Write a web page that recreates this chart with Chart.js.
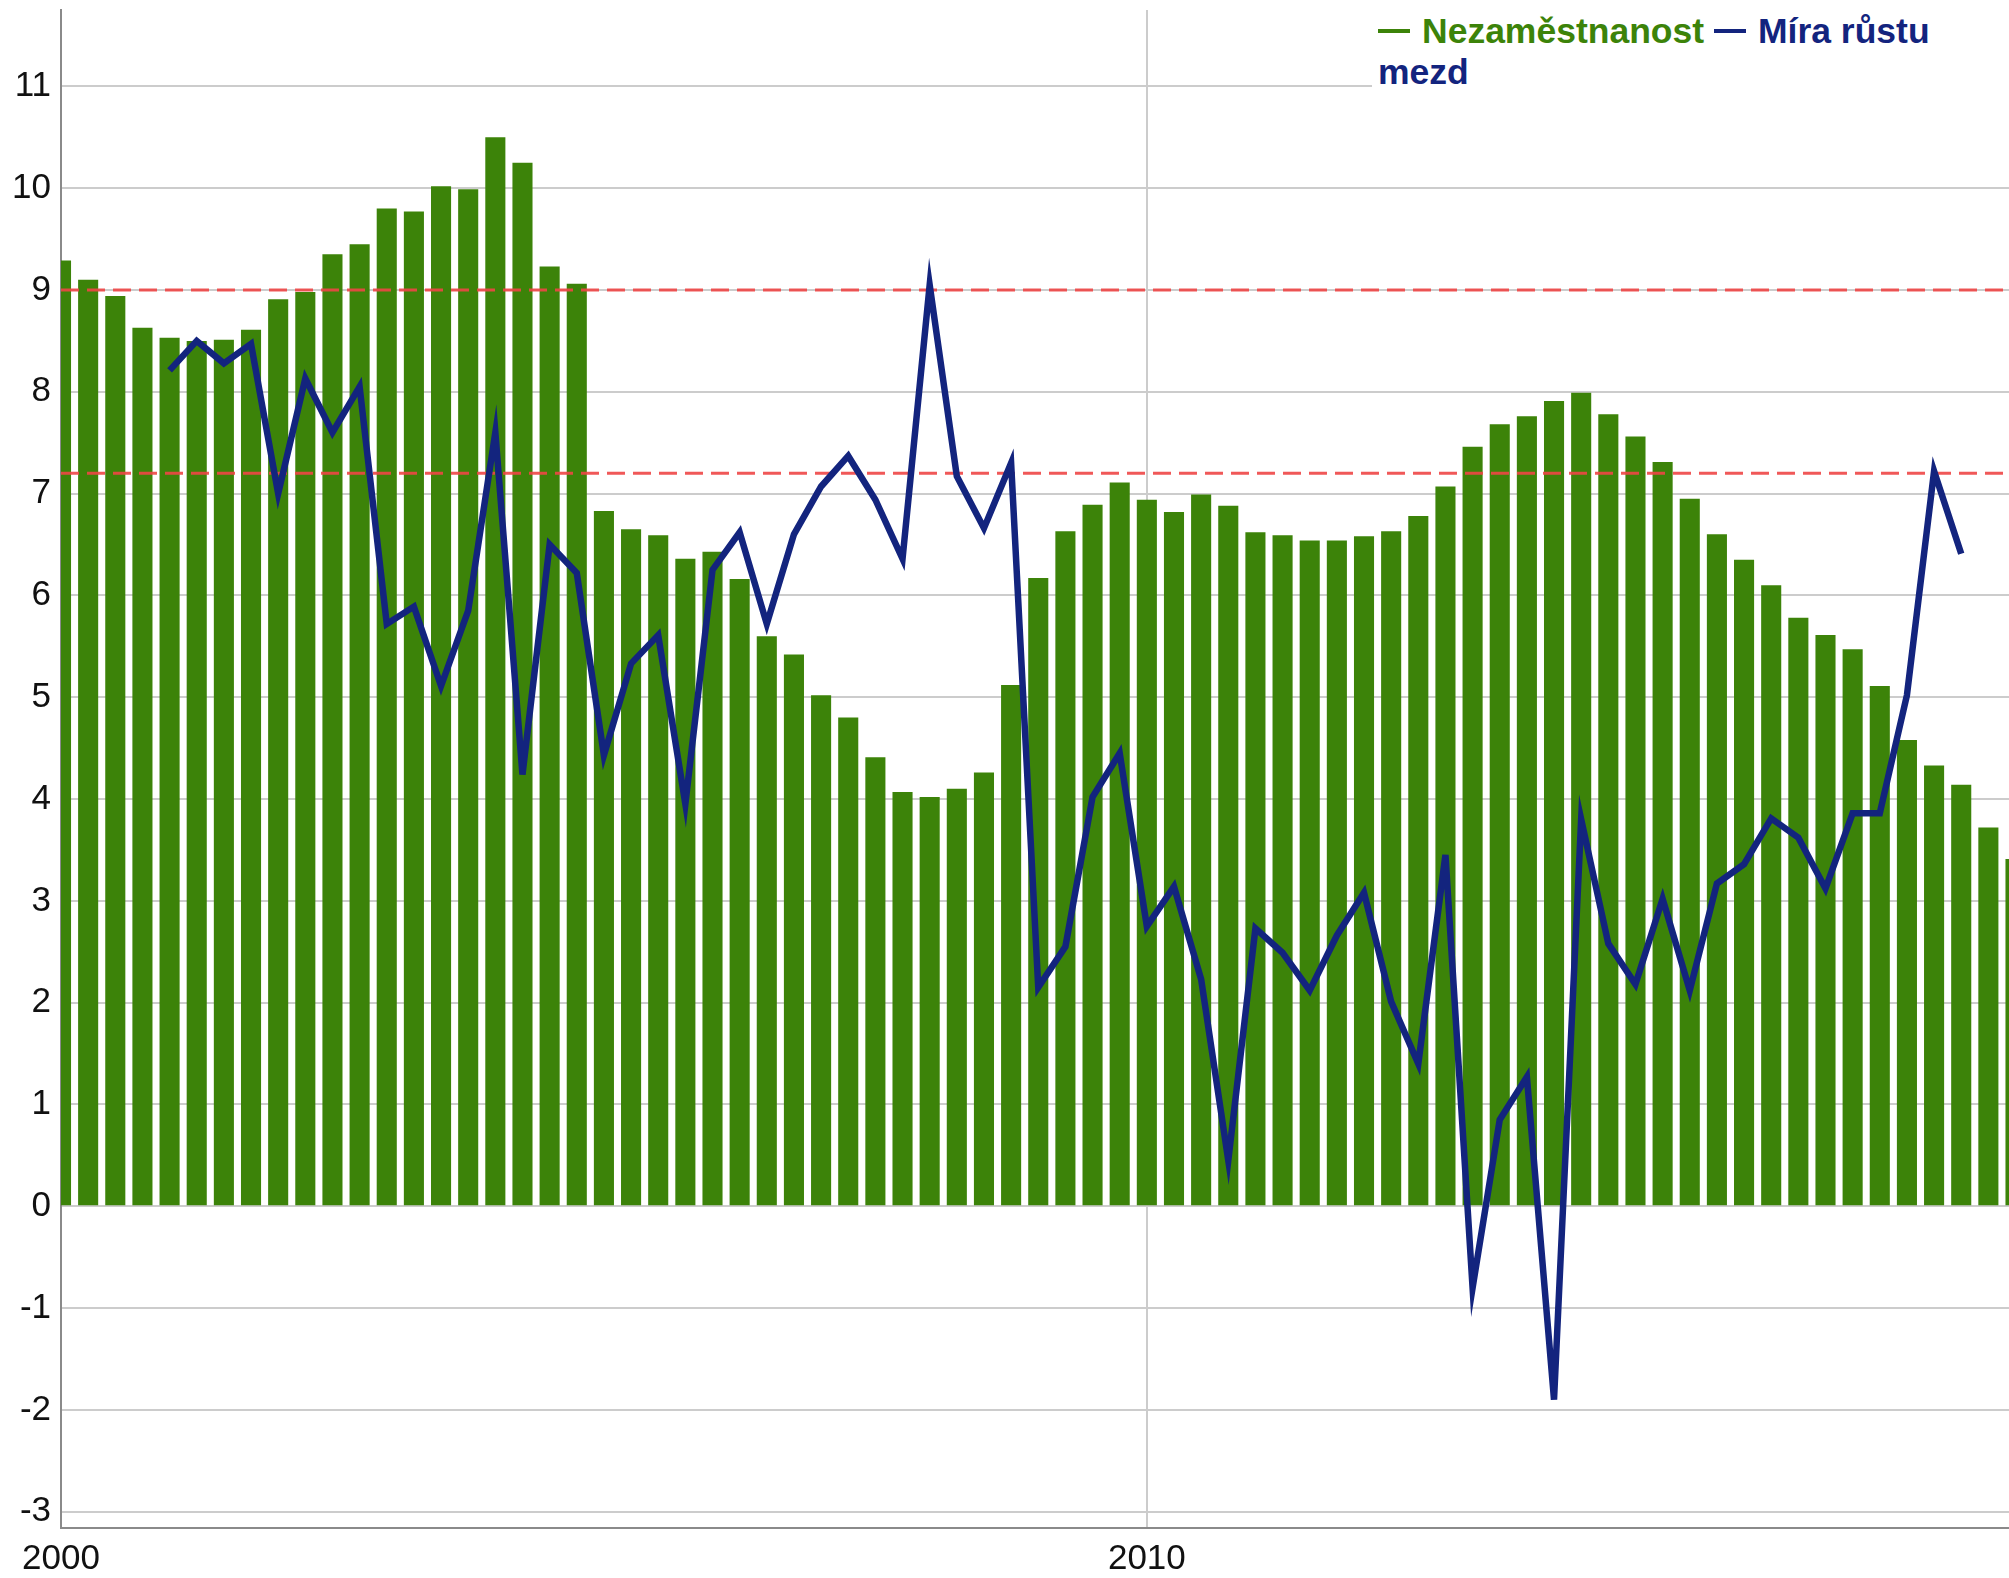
<!DOCTYPE html>
<html lang="cs">
<head>
<meta charset="utf-8">
<title>Nezaměstnanost a míra růstu mezd</title>
<script src="https://cdn.jsdelivr.net/npm/chart.js@4.4.1/dist/chart.umd.min.js"></script>
<style>
  html, body { margin: 0; padding: 0; background: #fff; }
  #wrap { position: relative; width: 2009px; height: 1578px; }
  #legend {
    position: absolute; left: 1372px; top: 11px; right: 0; height: 84px;
    background: #fff; padding-left: 6px;
    font: bold 35.5px "Liberation Sans", Arial, sans-serif; line-height: 41px;
  }
  #legend .inner { width: 610px; }
  #legend .mark { display: inline-block; width: 32px; height: 4px; vertical-align: middle; margin-right: 12px; position: relative; top: -3px; }
</style>
</head>
<body>
<div id="wrap">
  <canvas id="chart"></canvas>
  <div id="legend"><div class="inner"></div></div>
</div>
<script>
// Quarterly data, 2000Q1 .. 2018Q1
const firstYear = 2000;

// Nezaměstnanost (%), one value per quarter from 2000Q1
const unemployment = [
  9.29, 9.10, 8.94, 8.63, 8.53, 8.50, 8.51, 8.61, 8.91, 8.98,
  9.35, 9.45, 9.80, 9.77, 10.02, 9.99, 10.50, 10.25, 9.23, 9.06,
  6.83, 6.65, 6.59, 6.36, 6.43, 6.16, 5.60, 5.42, 5.02, 4.80,
  4.41, 4.07, 4.02, 4.10, 4.26, 5.12, 6.17, 6.63, 6.89, 7.11,
  6.94, 6.82, 6.99, 6.88, 6.62, 6.59, 6.54, 6.54, 6.58, 6.63,
  6.78, 7.07, 7.46, 7.68, 7.76, 7.91, 7.99, 7.78, 7.56, 7.31,
  6.95, 6.60, 6.35, 6.10, 5.78, 5.61, 5.47, 5.11, 4.58, 4.33,
  4.14, 3.72, 3.41
];

// Míra růstu mezd (%), one value per quarter from 2001Q1
const wageStart = 2001;
const wageGrowth = [
  8.21, 8.50, 8.28, 8.47, 7.00, 8.13, 7.60, 8.05,
  5.72, 5.89, 5.11, 5.85, 7.60, 4.24, 6.50, 6.22,
  4.43, 5.33, 5.61, 3.95, 6.25, 6.62, 5.72, 6.60,
  7.07, 7.37, 6.94, 6.36, 9.05, 7.17, 6.66, 7.30,
  2.15, 2.55, 4.02, 4.45, 2.75, 3.14, 2.23, 0.45,
  2.73, 2.49, 2.12, 2.66, 3.08, 2.01, 1.40, 3.45,
  -0.80, 0.85, 1.27, -1.90, 3.80, 2.58, 2.18, 3.02,
  2.12, 3.17, 3.36, 3.81, 3.62, 3.12, 3.86, 3.86,
  5.02, 7.22, 6.41
];

// dashed reference levels
const referenceLevels = [9.0, 7.2];

const seriesLabels = ['Nezaměstnanost', 'Míra růstu mezd'];
const seriesColors = ['#3c8309', '#13247e'];

const toPoints = (start, values) =>
  values.map((v, i) => ({ x: start + i / 4, y: v }));

const refDatasets = referenceLevels.map(level => ({
  type: 'line',
  label: 'ref ' + level,
  data: [{ x: firstYear, y: level }, { x: 2018, y: level }],
  borderColor: 'rgba(238, 70, 70, 0.9)',
  borderWidth: 3,
  borderDash: [18, 8],
  pointRadius: 0,
  clip: 0,
  order: 2
}));

const tickFont = { family: '"Liberation Sans", Arial, sans-serif', size: 35 };

const ctx = document.getElementById('chart').getContext('2d');
new Chart(ctx, {
  type: 'bar',
  data: {
    datasets: [
      {
        type: 'line',
        label: seriesLabels[1],
        data: toPoints(wageStart, wageGrowth),
        borderColor: seriesColors[1],
        borderWidth: 6.5,
        borderJoinStyle: 'miter',
        pointRadius: 0,
        tension: 0,
        order: 1
      },
      ...refDatasets,
      {
        label: seriesLabels[0],
        data: toPoints(firstYear, unemployment),
        backgroundColor: seriesColors[0],
        barPercentage: 0.74,
        categoryPercentage: 1,
        clip: 0,
        order: 3
      }
    ]
  },
  options: {
    responsive: true,
    maintainAspectRatio: false,
    animation: false,
    layout: { padding: { top: 10, right: 0, left: 0, bottom: 0 } },
    plugins: {
      legend: { display: false },
      tooltip: { enabled: false }
    },
    scales: {
      x: {
        type: 'linear',
        min: 2000,
        max: 2017.94,
        offset: false,
        grid: { offset: false, color: '#cccccc', lineWidth: 2, drawTicks: false },
        border: { color: '#8a8a8a', width: 2 },
        ticks: {
          stepSize: 10,
          includeBounds: false,
          padding: 10,
          color: '#111',
          font: tickFont,
          callback: v => String(v)
        },
        afterFit: scale => { scale.height = 50; }
      },
      y: {
        min: -3.16,
        max: 11.75,
        grid: { color: '#cccccc', lineWidth: 2, drawTicks: false },
        border: { color: '#8a8a8a', width: 2 },
        ticks: {
          stepSize: 1,
          includeBounds: false,
          padding: 10,
          color: '#111',
          font: tickFont
        },
        afterFit: scale => {
          scale.width = 61;
          scale.paddingTop = 0;
          scale.paddingBottom = 0;
        }
      }
    }
  }
});

// legend as html so the long label can wrap like the original
const legendBox = document.querySelector('#legend .inner');
legendBox.innerHTML = seriesLabels.map((label, i) =>
  '<span style="color:' + seriesColors[i] + '">' +
  '<span class="mark" style="background:' + seriesColors[i] + '"></span>' +
  label + '</span>'
).join(' ');
</script>
</body>
</html>
